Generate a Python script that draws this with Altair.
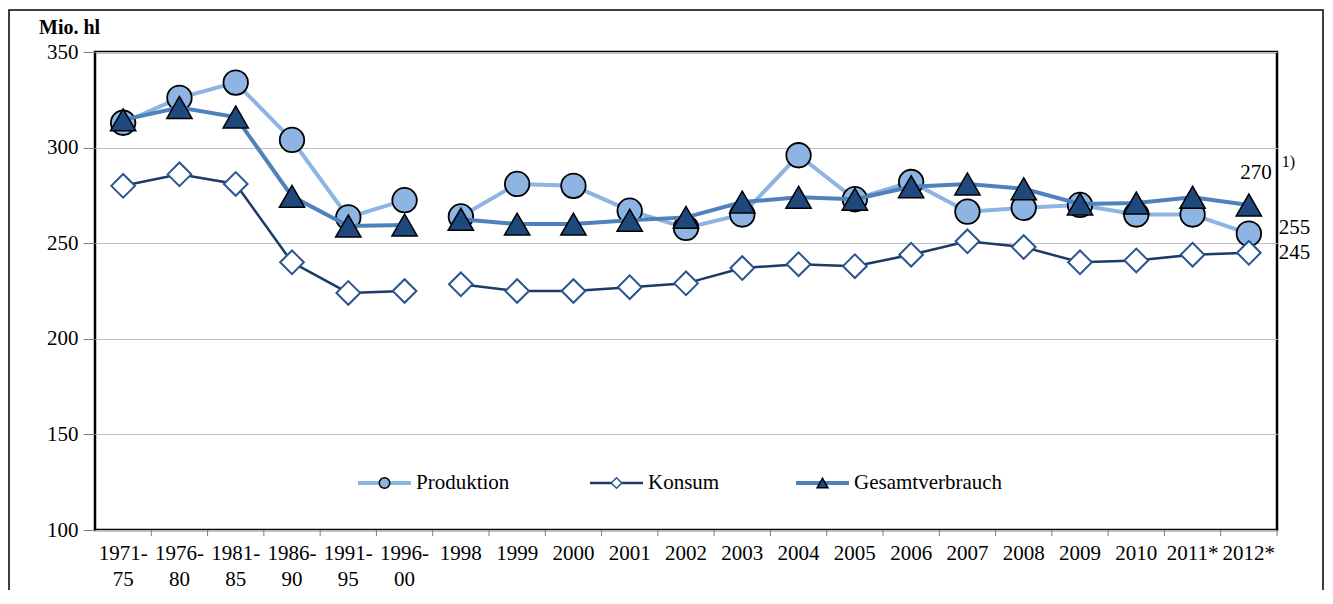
import altair as alt
import pandas as pd

categories = ["1971-75", "1976-80", "1981-85", "1986-90", "1991-95", "1996-00",
              "1998", "1999", "2000", "2001", "2002", "2003", "2004", "2005",
              "2006", "2007", "2008", "2009", "2010", "2011*", "2012*"]
produktion = [313, 326, 334, 304, 263.5, 272.5, 264, 281, 280, 267, 258, 265,
              296, 273, 282, 266.5, 268.5, 270, 265, 265, 255]
konsum = [280, 286, 281, 240, 224, 225, 228.5, 225, 225, 227, 229, 237, 239,
          238, 244, 251, 248, 240, 241, 244, 245]
gesamt = [314.5, 321, 316, 274.5, 259, 259.5, 262.5, 260, 260, 262, 263.5,
          271.5, 274, 273, 279.5, 281, 278.5, 270.5, 271, 274, 270]
segments = ["Perioden"] * 6 + ["Jahre"] * 15

series_names = ["Produktion", "Konsum", "Gesamtverbrauch"]
end_labels = ["255", "245", "270"]
end_values = [255, 245, 270]
y_ticks = [100, 150, 200, 250, 300, 350]

FONT = "Liberation Serif"
FS = 21
W, H = 1182, 478
N = len(categories)

rows = []
for name, vals in zip(series_names, [produktion, konsum, gesamt]):
    for i, (c, v, s) in enumerate(zip(categories, vals, segments)):
        rows.append({"pos": i, "Kategorie": c, "Wert": float(v), "Serie": name, "Segment": s})
df = pd.DataFrame(rows)

x_scale = alt.Scale(domain=[-0.5, N - 0.5], nice=False, zero=False)
y_scale = alt.Scale(domain=[100, 350], nice=False, zero=False)
x_main = alt.X("pos:Q", scale=x_scale, axis=None)
y_main = alt.Y("Wert:Q", scale=y_scale,
               axis=alt.Axis(title=None, values=y_ticks, domain=False, tickSize=12,
                             tickColor="#7f7f7f", labelPadding=5, labelFont=FONT,
                             labelFontSize=FS, labelColor="black",
                             gridColor="#C0C0C0", gridWidth=1))
x_plain = alt.X("pos:Q", scale=x_scale)
y_plain = alt.Y("Wert:Q", scale=y_scale)

base = alt.Chart(df)

def series_layers(name, line_color, line_width, shape, fill, stroke, size, stroke_width, first=False):
    d = base.transform_filter(alt.datum.Serie == name)
    line = d.mark_line(color=line_color, strokeWidth=line_width).encode(
        x=x_main if first else x_plain, y=y_main if first else y_plain,
        detail="Segment:N", order="pos:Q")
    pts = d.mark_point(shape=shape, filled=True, fill=fill, stroke=stroke,
                       strokeWidth=stroke_width, size=size, opacity=1).encode(
        x=x_plain, y=y_plain)
    return [line, pts]

layers = []
layers += series_layers("Produktion", "#8DB4E2", 4, "circle", "#8DB4E2", "black", 600, 1.8, first=True)
layers += series_layers("Konsum", "#1B3A66", 2.5, "diamond", "white", "#2A5490", 560, 2)
layers += series_layers("Gesamtverbrauch", "#4F81BD", 4, "triangle-up", "#1F497D", "black", 640, 1.5)

one = pd.DataFrame({"k": [0]})

# x axis: ticks between categories and two-line labels
cat_df = pd.DataFrame({"pos": list(range(N)), "Kategorie": categories})
ticks = alt.Chart(cat_df).transform_calculate(grenze="datum.pos + 0.5").mark_rule(
    color="#7f7f7f", strokeWidth=1).encode(
    x=alt.X("grenze:Q", scale=x_scale), y=alt.value(H), y2=alt.value(H + 6))
lab1 = alt.Chart(cat_df).transform_calculate(
    Zeile1="indexof(datum.Kategorie, '-') > 0 ? substring(datum.Kategorie, 0, 5) : datum.Kategorie"
).mark_text(font=FONT, fontSize=FS, baseline="top", align="center", color="black").encode(
    x=x_plain, y=alt.value(H + 13), text="Zeile1:N")
lab2 = alt.Chart(cat_df).transform_filter(
    "indexof(datum.Kategorie, '-') > 0"
).transform_calculate(
    Zeile2="substring(datum.Kategorie, 5)"
).mark_text(font=FONT, fontSize=FS, baseline="top", align="center", color="black").encode(
    x=x_plain, y=alt.value(H + 39), text="Zeile2:N")
layers += [ticks, lab1, lab2]

# y unit title
unit = alt.Chart(one).mark_text(font=FONT, fontSize=20, fontWeight="bold", align="left",
                                 baseline="middle", color="black").encode(
    x=alt.value(-56), y=alt.value(-24), text=alt.value("Mio. hl"))
layers.append(unit)

# end annotations
ann = pd.DataFrame({"pos": [N - 1] * 3, "Wert": [float(v) for v in end_values], "Label": end_labels})
ann_255 = alt.Chart(ann).transform_filter(alt.datum.Label == "255").mark_text(
    font=FONT, fontSize=FS, align="left", baseline="middle", dx=30, dy=-6, color="black"
).encode(x=x_plain, y=y_plain, text="Label:N")
ann_245 = alt.Chart(ann).transform_filter(alt.datum.Label == "245").mark_text(
    font=FONT, fontSize=FS, align="left", baseline="middle", dx=30, color="black"
).encode(x=x_plain, y=y_plain, text="Label:N")
ann_270 = alt.Chart(ann).transform_filter(alt.datum.Label == "270").mark_text(
    font=FONT, fontSize=FS, align="right", baseline="middle", dx=23, dy=-32, color="black"
).encode(x=x_plain, y=y_plain, text="Label:N")
ann_fn = alt.Chart(ann).transform_filter(alt.datum.Label == "270").mark_text(
    font=FONT, fontSize=16, align="left", baseline="middle", dx=33, dy=-43, color="black"
).encode(x=x_plain, y=y_plain, text=alt.value("1)"))
layers += [ann_255, ann_245, ann_270, ann_fn]

# manual legend
leg_y = 431
legend_items = [
    ("Produktion", 263, "#8DB4E2", 4, "circle", "#8DB4E2", "black", 110),
    ("Konsum", 495, "#1B3A66", 2.5, "diamond", "white", "#2A5490", 110),
    ("Gesamtverbrauch", 701, "#4F81BD", 4, "triangle-up", "#1F497D", "black", 120),
]
for label, x0, lc, lw, shp, fc, sc, sz in legend_items:
    layers.append(alt.Chart(one).mark_rule(color=lc, strokeWidth=lw).encode(
        x=alt.value(x0), x2=alt.value(x0 + 53), y=alt.value(leg_y)))
    layers.append(alt.Chart(one).mark_point(shape=shp, filled=True, fill=fc, stroke=sc,
                                             strokeWidth=1.5, size=sz, opacity=1).encode(
        x=alt.value(x0 + 26.5), y=alt.value(leg_y)))
    layers.append(alt.Chart(one).mark_text(font=FONT, fontSize=FS, align="left",
                                            baseline="middle", color="black").encode(
        x=alt.value(x0 + 58), y=alt.value(leg_y), text=alt.value(label)))

# outer frame
frame = alt.Chart(one).mark_rect(fillOpacity=0, stroke="black", strokeWidth=1.5).encode(
    x=alt.value(-86), x2=alt.value(1228), y=alt.value(-42), y2=alt.value(600))
layers.append(frame)

chart = alt.layer(*layers).properties(
    width=W, height=H,
    autosize=alt.AutoSizeParams(type="none"),
    padding={"left": 87, "top": 44, "right": 48, "bottom": 60},
    background="white",
).configure_view(stroke="black", strokeWidth=2.5)

chart.save("out.html", embed_options={"renderer": "svg", "actions": False})
